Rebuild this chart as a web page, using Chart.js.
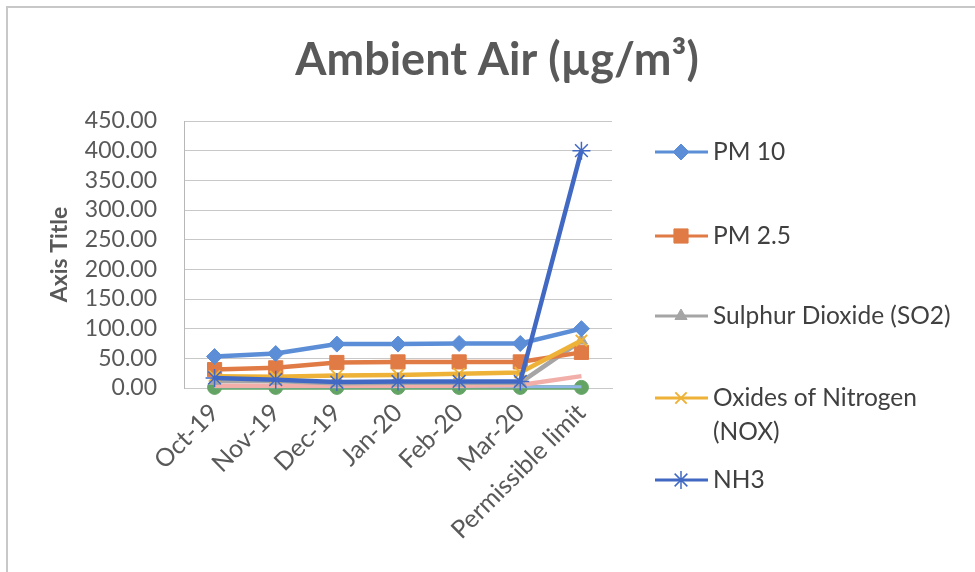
<!DOCTYPE html>
<html><head><meta charset="utf-8">
<script src="https://cdn.jsdelivr.net/npm/chart.js@4.4.1/dist/chart.umd.min.js"></script>
<style>html,body{margin:0;padding:0;background:#fff}canvas{display:block}</style>
</head><body>
<canvas id="c" width="975" height="572"></canvas>
<script>
const categories = ['Oct-19', 'Nov-19', 'Dec-19', 'Jan-20', 'Feb-20', 'Mar-20', 'Permissible limit'];
const yTicks = [0, 50, 100, 150, 200, 250, 300, 350, 400, 450];
const pm10 = [53, 58, 74, 74, 75, 75, 100];
const pm25 = [31, 34, 43, 44, 44, 44, 60];
const so2  = [12, 12, 8, 9, 9, 9, 80];
const nox  = [20, 19, 21, 22, 24, 26, 80];
const nh3  = [17, 14, 10, 11, 11, 11, 400];
const series6 = [1, 1, 1, 1, 1, 1, 1];
const series7 = [4, 4, 4, 4, 4, 5, 20];
const series8 = [2, 2, 2, 2, 2, 2, 2];
const seriesNames = ['PM 10', 'PM 2.5', 'Sulphur Dioxide (SO2)', 'Oxides of Nitrogen (NOX)', 'NH3', 'Series 6', 'Series 7', 'Series 8'];
const legendLines = [['PM 10'], ['PM 2.5'], ['Sulphur Dioxide (SO2)'], ['Oxides of Nitrogen', '(NOX)'], ['NH3']];

const FONT = 'Lato, "Open Sans", sans-serif';
const TXT = '#595959';

function ds(i, data, color, style, radius, extra) {
  return Object.assign({
    label: seriesNames[i], data: data, borderColor: color, backgroundColor: color,
    borderWidth: 4.5, pointStyle: style, pointRadius: radius, pointHoverRadius: radius,
    pointBorderColor: color, pointBackgroundColor: color, pointBorderWidth: 1,
    tension: 0, order: 20 - i, clip: false
  }, extra || {});
}

const datasets = [
  ds(0, pm10, '#5B8ED6', 'rectRot', 8, {order: 10}),
  ds(1, pm25, '#E07B45', 'rect', 10, {order: 11}),
  ds(2, so2, '#A5A5A5', 'triangle', 7, {order: 12}),
  ds(3, nox, '#EDB237', 'crossRot', 8, {pointBorderWidth: 2, order: 9}),
  ds(4, nh3, '#4169C4', 'star', 9, {pointBorderWidth: 1.5, order: 8}),
  ds(5, series6, '#63A464', 'circle', 7, {order: 16}),
  ds(6, series7, '#F2AFAA', false, 0, {order: 14}),
  ds(7, series8, '#8FB6E4', false, 0, {borderWidth: 3, order: 15})
];

const framePlugin = {
  id: 'frame',
  beforeDraw(chart) {
    const ctx = chart.ctx;
    ctx.save();
    ctx.fillStyle = '#fff';
    ctx.fillRect(0, 0, chart.width, chart.height);
    ctx.strokeStyle = '#C8C8C8';
    ctx.lineWidth = 2;
    ctx.beginPath();
    ctx.moveTo(7, chart.height); ctx.lineTo(7, 7); ctx.lineTo(chart.width, 7);
    ctx.stroke();
    ctx.restore();
  },
  afterDraw(chart) {
    const ctx = chart.ctx;
    ctx.save();
    ctx.fillStyle = TXT;
    ctx.font = 'bold 45px ' + FONT;
    ctx.textAlign = 'center';
    ctx.textBaseline = 'middle';
    ctx.fillText('Ambient Air (\u00b5g/m\u00b3)', 497, 60);
    // legend
    const ys = [152, 236, 316, 398, 480];
    ctx.font = '24.5px ' + FONT;
    ctx.textAlign = 'left';
    legendLines.forEach((lines, i) => {
      const d = chart.data.datasets[i];
      const y = ys[i];
      ctx.strokeStyle = d.borderColor;
      ctx.lineWidth = 3;
      ctx.beginPath(); ctx.moveTo(655, y); ctx.lineTo(708, y); ctx.stroke();
      ctx.fillStyle = d.pointBackgroundColor;
      ctx.strokeStyle = d.pointBorderColor;
      ctx.lineWidth = d.pointBorderWidth;
      Chart.helpers.drawPoint(ctx, {pointStyle: d.pointStyle, radius: d.pointRadius, rotation: 0, borderWidth: d.pointBorderWidth}, 681, y);
      ctx.fillStyle = '#404040';
      lines.forEach((t, k) => ctx.fillText(t, 713, y + k * 34));
    });
    ctx.restore();
  }
};

new Chart(document.getElementById('c'), {
  type: 'line',
  data: { labels: categories, datasets: datasets },
  plugins: [framePlugin],
  options: {
    responsive: false,
    animation: false,
    layout: { padding: { left: 30, right: 363, top: 121, bottom: 10 } },
    plugins: { legend: { display: false }, title: { display: false }, tooltip: { enabled: false } },
    scales: {
      x: {
        offset: true,
        grid: { display: false, drawTicks: false },
        border: { color: '#C8C8C8' },
        ticks: { maxRotation: 45, minRotation: 45, autoSkip: false, padding: 10, color: TXT, font: { family: FONT, size: 25 } },
        afterFit(s) { s.height = 572 - 388 - 10; }
      },
      y: {
        min: 0, max: 450,
        afterBuildTicks(s) { s.ticks = yTicks.map(v => ({ value: v })); },
        grid: { color: '#C8C8C8', lineWidth: 1, drawTicks: false },
        border: { display: true, color: '#B8B8B8' },
        ticks: { autoSkip: false, padding: 27, color: TXT, font: { family: FONT, size: 23 }, callback: v => Number(v).toFixed(2) },
        title: { display: true, text: 'Axis Title', color: TXT, font: { family: FONT, size: 23, weight: 'bold' }, padding: { top: 16, bottom: 0 } },
        afterFit(s) { s.width = 184 - 30; }
      }
    }
  }
});
</script>
</body></html>
